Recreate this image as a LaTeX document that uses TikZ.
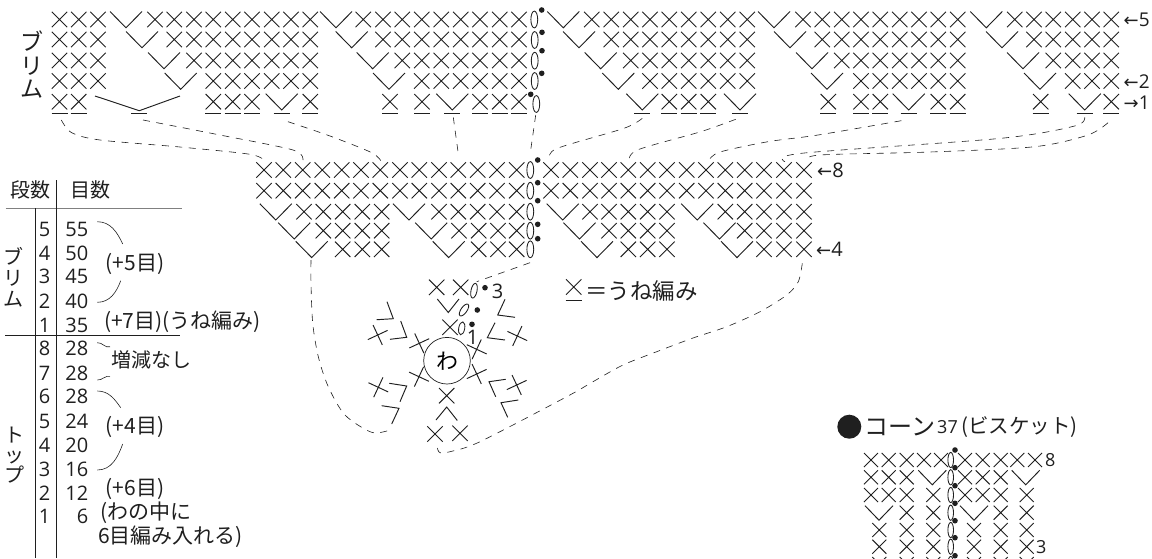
\documentclass[tikz,border=0pt]{standalone}
\usepackage{fontspec}
\setmainfont{Open Sans}
\newfontfamily\jp{Noto Sans CJK JP}
\newfontfamily\arr{DejaVu Sans}

\definecolor{inkcolor}{rgb}{0.12, 0.12, 0.12}
\definecolor{rulecolor}{rgb}{0.50, 0.50, 0.50}

\tikzset{
  stitch/.style={line width=0.95pt,color=inkcolor},
  chainst/.style={line width=0.85pt,color=inkcolor},
  guide/.style={line width=0.6pt,color=inkcolor,dash pattern=on 7pt off 6.5pt},
  tabline/.style={line width=0.8pt,color=inkcolor},
  lab/.style={inner sep=0pt,color=inkcolor,font=\jp\fontsize{21}{25}\selectfont},
  num/.style={inner sep=0pt,color=inkcolor,font=\fontsize{20}{24}\selectfont},
  mark3/.style={inner sep=0pt,color=inkcolor,font=\fontsize{20}{24}\selectfont},
}

\newcommand{\xs}[3][0]{\draw[stitch,shift={(#2,#3)},rotate=#1] (-7.7,-7.7)--(7.7,7.7) (-7.7,7.7)--(7.7,-7.7);}
\newcommand{\vs}[2]{\draw[stitch,shift={(#1,#2)}] (-16,-8)--(0,8.3)--(16,-8);}
\newcommand{\us}[2]{\draw[line width=1pt,color=inkcolor] (#1-8,#2+11.8)--(#1+8,#2+11.8);}
\newcommand{\ch}[3][0]{\draw[chainst,rotate around={#1:(#2,#3)}] (#2,#3) ellipse (3.4 and 8.4);}
\newcommand{\dt}[2]{\fill[inkcolor] (#1,#2) circle (2.8);}
\newcommand{\cs}[2]{\draw[stitch,shift={(#1,#2)}] (-7,-7)--(7,7) (-7,7)--(7,-7);}
\newcommand{\cv}[2]{\draw[stitch,shift={(#1,#2)}] (-14,-7)--(0,7.5)--(14,-7);}

\begin{document}
\begin{tikzpicture}[x=1pt,y=-1pt]
\useasboundingbox (0,0) rectangle (1152,558);

% brim
\foreach \y in {19.5,39.5,60.5,81} {\xs{59.5}{\y} \xs{78.7}{\y} \xs{98}{\y}}
\foreach \x in {155,174.3,194,213.3,232.7,252,271.7,291,310.3,363.3,383,402.3,421.7,441.3,460.7,480,499.7,519,591.7,611.3,630.7,650,669.3,688.7,708.3,727.7,747.3,803,822.3,841.7,861,880.3,899.7,919,938.3,957.7,1014.7,1034,1053.3,1072.7,1092,1111.3} {\xs{\x}{19.5}}
\foreach \x in {126,336,563.3,774,986.3} {\vs{\x}{19.5}}
\foreach \x in {174.3,194,213.3,232.7,252,271.7,291,310.3,383,402.3,421.7,441.3,460.7,480,499.7,519,611.3,630.7,650,669.3,688.7,708.3,727.7,747.3,822.3,841.7,861,880.3,899.7,919,938.3,957.7,1034,1053.3,1072.7,1092,1111.3} {\xs{\x}{39.5}}
\foreach \x in {142,351.7,579,790,1002} {\vs{\x}{39.5}}
\foreach \x in {194,213.3,232.7,252,271.7,291,310.3,402.3,421.7,441.3,460.7,480,499.7,519,630.7,650,669.3,688.7,708.3,727.7,747.3,841.7,861,880.3,899.7,919,938.3,957.7,1053.3,1072.7,1092,1111.3} {\xs{\x}{60.5}}
\foreach \x in {164,372.7,600.7,812,1023} {\vs{\x}{60.5}}
\foreach \x in {213.3,232.7,252,271.7,291,310.3,421.7,441.3,460.7,480,499.7,519,650,669.3,688.7,708.3,727.7,747.3,861,880.3,899.7,919,938.3,957.7,1072.7,1092,1111.3} {\xs{\x}{81}}
\foreach \x in {180.7,389,618.3,827,1040} {\vs{\x}{81}}
\foreach \x in {59.5,78.7,213.3,232.7,252,310.3,390,422,480,499.7,519,669.3,688.7,708.3,828.3,861,880.3,938.3,957.7,1040.7,1111.3} {\xs{\x}{101.7}\us{\x}{101.7}}
\foreach \x in {281.7,452.3,642.3,740,908.7,1084.7} {\vs{\x}{101.7}\us{\x}{101.7}}
\draw[stitch] (95,96)--(139.3,110.7)--(180,96);
\us{139.3}{101.7}
\ch{534.3}{19.5} \ch{534.7}{40} \ch{534.7}{60.7} \ch{534.7}{81} \ch{536.3}{104}
\dt{541.7}{10} \dt{542}{32.3} \dt{542}{50.7} \dt{541.7}{73.3} \dt{530.7}{94.3}
\node[num,anchor=west,font=\fontsize{19}{23}\selectfont] (brim5) at (1123.5,19.5) {{\arr\fontsize{18}{22}\selectfont ←}5};
\node[num,anchor=west,font=\fontsize{19}{23}\selectfont] (brim2) at (1123.5,82) {{\arr\fontsize{18}{22}\selectfont ←}2};
\node[num,anchor=west,font=\fontsize{19}{23}\selectfont] (brim1) at (1123.5,103) {{\arr\fontsize{18}{22}\selectfont →}1};
\node[lab,align=center,font=\jp\fontsize{23}{23.5}\selectfont] (brimtitle) at (31.7,65) {ブ\\リ\\ム};

% top
\foreach \y in {170,190.7} {\foreach \x in {264,283.3,302.7,322.3,341.7,361,380.3,400,419.3,439,458.3,477.7,497,516.7,551,570.3,590,609,628.3,647.7,667,686.7,706,725.3,744.7,764,784,804} {\xs{\x}{\y}}}
\foreach \x in {304,323.3,342.7,362.3,381.7,439,458.3,477.7,497,516.7,590,609,628.3,647.7,667,725.3,744.7,764,784,804} {\xs{\x}{211.7}}
\foreach \x in {275.8,409,562.7,697.2} {\vs{\x}{211.7}}
\foreach \x in {323.3,342.7,362.3,381.7,459,478.7,498,516.7,609,628.3,647.7,667,744.7,764,784,804} {\xs{\x}{230.7}}
\foreach \x in {294.2,431.2,579.5,719.5} {\vs{\x}{230.7}}
\foreach \x in {342.7,362.3,381.7,478.7,498,516.7,628.3,647.7,667,764,784,804} {\xs{\x}{249.3}}
\foreach \x in {311.7,448.7,597,737} {\vs{\x}{249.3}}
\ch{530.3}{170} \ch{530.3}{190.7} \ch{530.3}{211.7} \ch{530.3}{230.7} \ch{530.3}{249.3}
\dt{537.7}{160} \dt{537.7}{182.7} \dt{537.7}{200.7} \dt{537.7}{224.3} \dt{537.7}{238.7}
\node[num,anchor=west] (top8) at (817,170) {{\arr\fontsize{18}{22}\selectfont ←}8};
\node[num,anchor=west] (top4) at (816,249.3) {{\arr\fontsize{18}{22}\selectfont ←}4};

% joins
\draw[guide] plot[smooth] coordinates {(61.3,120) (71.7,132.7) (100,140) (180,147) (250,154.3) (265,161)};
\draw[guide] plot[smooth] coordinates {(143,120) (220,135) (293,150) (303,160)};
\draw[guide] plot[smooth] coordinates {(288,121.7) (330,136) (371.7,152.7) (381.7,162)};
\draw[guide] (453.3,117.3)--(458.7,156.7);
\draw[guide] (535.7,115)--(530,155);
\draw[guide] plot[smooth] coordinates {(642.3,118.3) (624,128.3) (557.3,148.3) (549.7,158)};
\draw[guide] plot[smooth] coordinates {(735.7,119.3) (700.7,131.7) (637.3,150) (629,161.7)};
\draw[guide] plot[smooth] coordinates {(901.3,120.7) (818,135) (768,141.7) (720,152) (709,160)};
\draw[guide] plot[smooth] coordinates {(1084.7,117.3) (1074.7,126) (1001,138.3) (801.3,153.3) (785,161.7)};
\draw[guide] plot[smooth] coordinates {(1108,122.7) (1088,135) (1034.7,146.7) (930,152) (820,155) (806.7,160.7)};
\draw[guide] plot[smooth] coordinates {(311,260) (311,283) (312.7,323) (318.3,356.7) (328.3,386.7) (345,415) (371.7,432.3) (390,430)};
\draw[guide] (530,262.7)--(476.7,281.7);
\draw[guide] plot[smooth] coordinates {(802.3,263.3) (798.3,281.7) (786.7,295) (760,311.7) (726.7,326.7) (693,338) (656.7,351.7) (623,365) (593,381.7) (566.7,396.7) (480,441.7) (450,451.7) (440,452.7) (437.3,448)};

% round
\node[circle,draw=inkcolor,line width=0.7pt,minimum size=46.6pt,inner sep=0pt,font=\jp\fontsize{22}{26}\selectfont] (ring) at (447,360.7) {わ};
\xs{436.7}{287.3} \xs{460.7}{287.3} \xs{450}{327.3}
\xs[-20]{377.7}{335} \xs[-20]{419.3}{343.3} \xs[20]{378.3}{387.3} \xs[20]{419}{376.7}
\xs[20]{517.3}{336} \xs[20]{476.7}{349.3} \xs[-20]{516.7}{385} \xs[-20]{476.7}{374}
\xs{446.7}{395.7} \xs{435}{434} \xs{460}{433.3}
\draw[stitch] (437.3,299)--(448.3,312.5)--(459,299);
\draw[stitch] (436,420)--(446.7,407)--(457.3,420.5);
\draw[stitch] (387,301.7)--(393.3,318.7)--(376.7,319.7);
\draw[stitch] (400.7,321)--(406.7,337.3)--(390,339.3);
\draw[stitch] (505,299.3)--(497.7,315)--(515,317.3);
\draw[stitch] (495,322.7)--(487.3,337.7)--(505,340);
\draw[stitch] (389.3,383.3)--(406.7,386)--(400,401.7);
\draw[stitch] (381.7,405.7)--(399,408.3)--(391.7,424);
\draw[stitch] (505.7,379.3)--(489,381.7)--(495.7,396.7);
\draw[stitch] (518.3,400)--(501,402.7)--(507.7,417.3);
\draw[chainst,rotate around={-12:(474,290.7)}] (474,290.7) ellipse (3 and 7.5);
\draw[chainst,rotate around={-35:(464,310)}] (464,310) ellipse (3 and 7);
\draw[chainst,rotate around={-10:(461.7,328.3)}] (461.7,328.3) ellipse (3 and 6.5);
\dt{485}{287.7} \dt{477.3}{310} \dt{472}{324.3}
\node[mark3] (round3) at (497.7,291.7) {3};
\node[mark3] (round1) at (472.7,337.3) {1};

% legend
\xs{573.7}{287}
\draw[line width=1pt,color=inkcolor] (565.7,300.7)--(581.7,300.7);
\node[lab,anchor=west,font=\jp\fontsize{22.5}{26}\selectfont] (legend) at (585,291) {＝うね編み};

% table
\draw[line width=1.2pt,color=rulecolor] (5.7,208.3)--(181.7,208.3);
\draw[tabline] (5,335)--(180,335);
\draw[tabline] (56.7,180)--(56.7,558);
\draw[tabline] (35.3,208)--(35.3,558);
\node[lab,font=\jp\fontsize{20}{24}\selectfont] (rounds) at (30,190) {段数};
\node[lab,font=\jp\fontsize{20}{24}\selectfont] (counts) at (90,190) {目数};
\foreach \n/\r/\c/\y in {a/5/55/229.3,b/4/50/253.3,c/3/45/276.7,d/2/40/301.7,e/1/35/325,f/8/28/348.3,g/7/28/373.3,h/6/28/396.7,i/5/24/421.7,j/4/20/445,k/3/16/469.3,l/2/12/493.3,m/1/6/516.7} {
  \node[num] (rnd\n) at (44.5,\y) {\r};
  \node[num,anchor=east] (cnt\n) at (88.5,\y) {\c};
}
\node[lab,align=center,font=\jp\fontsize{20}{21}\selectfont] (brimside) at (14,277) {ブ\\リ\\ム};
\node[lab,align=center,font=\jp\fontsize{20}{20}\selectfont] (topside) at (15,455) {ト\\ッ\\プ};
\draw[tabline,line width=0.6pt] (97.3,221.7) to[out=0,in=115] (122.7,244);
\draw[tabline,line width=0.6pt] (97.3,302.3) to[out=0,in=250] (120.7,280.7);
\draw[tabline,line width=0.6pt] (97.3,342.7) to[out=5,in=200] (110,346.7);
\draw[tabline,line width=0.6pt] (97.3,380) to[out=-5,in=160] (110,376.7);
\draw[tabline,line width=0.6pt] (97.3,391) to[out=0,in=125] (120.7,407.7);
\draw[tabline,line width=0.6pt] (97.3,470) to[out=0,in=250] (122.7,444);
\node[lab] (inc5) at (135,264) {(+5目)};
\node[lab,anchor=west] (inc7) at (104,321.7) {(+7目)(うね編み)};
\node[lab,font=\jp\fontsize{20}{24}\selectfont] (keep) at (151,360) {増減なし};
\node[lab] (inc4) at (135,426.7) {(+4目)};
\node[lab] (inc6) at (135,488.5) {(+6目)};
\node[lab,anchor=west] (ringa) at (100,512.5) {(わの中に};
\node[lab,anchor=west] (ringb) at (98,536.7) {6目編み入れる)};

% cone
\fill[inkcolor] (849.3,426.7) circle (12);
\node[lab,anchor=west,font=\jp\fontsize{24}{28}\selectfont] (conea) at (864,426.7) {コーン};
\node[lab,anchor=west,font=\fontsize{18}{21}\selectfont] (coneb) at (937,427) {37};
\node[lab,anchor=west,font=\jp\fontsize{20.5}{24}\selectfont] (conec) at (961,426.7) {(ビスケット)};
\foreach \x in {871,888.7,906.7,924,941,965,982.7,1000.7,1017.3,1035} {\cs{\x}{460}}
\foreach \x in {871,888.7,906.7,965,982.7,1000.7} {\cs{\x}{477.3}\cs{\x}{495}}
\cv{932.3}{477.3} \cv{1025.7}{477.3}
\cs{933.3}{495} \cs{1026.7}{495}
\cv{879}{512.7} \cv{974}{512.7}
\foreach \x in {906.7,933.3,1000.7,1026.7} {\cs{\x}{512.7}}
\foreach \y in {530,546.7,564} {\foreach \x in {879.3,906.7,933.3,974,1000.7,1026.7} {\cs{\x}{\y}}}
\foreach \y in {460,477.3,495,512.7,530,546.7,564} {\draw[chainst] (950.7,\y) ellipse (2.8 and 7.6);}
\foreach \y in {450,467.7,485.7,503.3,520.7,537.7,555.7} {\dt{955}{\y}}
\node[mark3,anchor=west,font=\fontsize{18}{21}\selectfont] (cone8) at (1045,460) {8};
\node[mark3,anchor=west,font=\fontsize{18}{21}\selectfont] (cone3) at (1036,546.7) {3};
\end{tikzpicture}
\end{document}
